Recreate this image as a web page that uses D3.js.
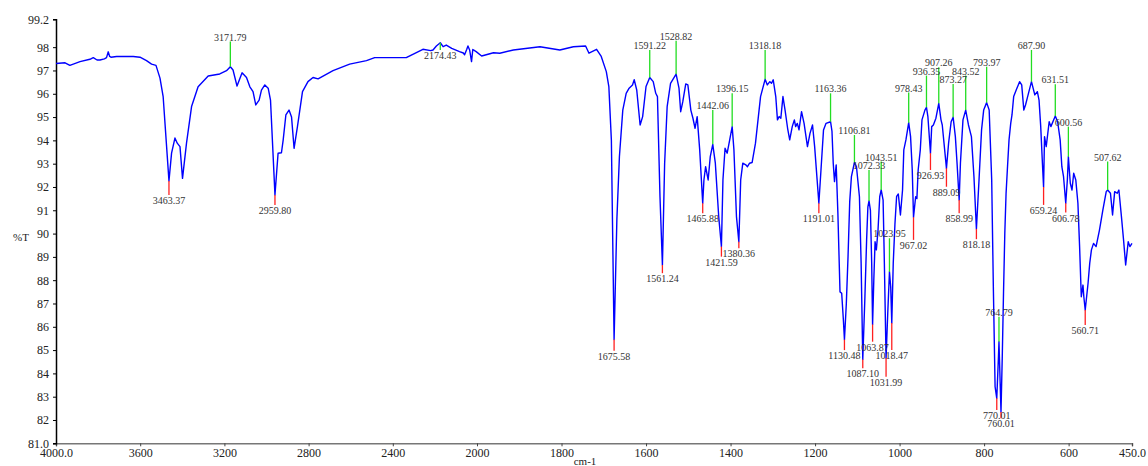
<!DOCTYPE html>
<html>
<head>
<meta charset="utf-8">
<script src="https://cdn.jsdelivr.net/npm/d3@7"></script>
<style>
  body { margin: 0; background: #fff; }
  svg { display: block; font-family: "Liberation Serif", "DejaVu Serif", serif; }
  .tick text { fill: #222; font-size: 12px; font-family: "Liberation Serif", "DejaVu Serif", serif; }
  .peak-label { fill: #333; font-size: 10px; }
  .axis-label { fill: #222; font-size: 11px; }
</style>
</head>
<body>
<div id="chart"></div>
<script>
// IR spectrum, %T against wavenumber (cm-1)
const spectrum = [
  [4000, 97.3], [3957, 97.33], [3934, 97.22], [3886, 97.38], [3839, 97.48], [3823, 97.55],
  [3805, 97.45], [3791, 97.45], [3770, 97.5], [3760, 97.55], [3752, 97.8], [3745, 97.6],
  [3739, 97.57], [3712, 97.6], [3633, 97.6], [3601, 97.57], [3570, 97.42], [3546, 97.27],
  [3525, 97.22], [3506, 96.67], [3491, 95.88], [3463.37, 92.26], [3451, 93.45], [3435, 94.1],
  [3424, 93.88], [3411, 93.73], [3399, 92.37], [3380, 93.88], [3356, 95.45], [3325, 96.3],
  [3277, 96.76], [3222, 96.85], [3190, 96.99], [3171.79, 97.16], [3159, 97.02], [3140, 96.33],
  [3116, 96.9], [3095, 96.7], [3079, 96.3], [3064, 96.09], [3051, 95.52], [3035, 95.73],
  [3024, 96.16], [3008, 96.38], [2992, 96.24], [2981, 95.73], [2959.8, 91.66], [2945, 93.45],
  [2929, 93.47], [2921, 94.0], [2908, 95.09], [2893, 95.3], [2881, 95.0], [2869, 93.66],
  [2853, 94.59], [2829, 96.09], [2803, 96.52], [2779, 96.7], [2755, 96.64], [2684, 96.99],
  [2605, 97.27], [2525, 97.42], [2486, 97.55], [2367, 97.55], [2336, 97.55], [2257, 97.91],
  [2220, 97.85], [2209, 97.88], [2193, 98.05], [2174.43, 98.19], [2161, 98.02], [2146, 98.09],
  [2120, 97.95], [2083, 97.81], [2065, 97.75], [2059, 97.67], [2049, 97.9], [2043, 98.05],
  [2035, 97.88], [2026, 97.38], [2020, 97.9], [2017, 97.88], [2004, 97.81], [1989, 97.62],
  [1961, 97.76], [1946, 97.74], [1914, 97.88], [1851, 98.02], [1804, 97.88], [1772, 98.02],
  [1743, 98.05], [1735, 97.74], [1717, 97.91], [1706, 97.6], [1694, 96.95], [1688, 96.31],
  [1682, 94.0], [1675.58, 85.45], [1669, 90.6], [1663, 93.3], [1655, 95.3], [1647, 96.02],
  [1640, 96.24], [1632, 96.38], [1628, 96.6], [1622, 96.16], [1614, 94.66], [1608, 95.02],
  [1600, 96.31], [1591.22, 96.7], [1583, 96.52], [1577, 96.02], [1573, 95.88], [1567, 91.59],
  [1561.24, 88.65], [1556, 93.0], [1550, 95.45], [1542, 96.45], [1528.82, 96.84], [1522, 96.24],
  [1518, 95.23], [1513, 95.66], [1506, 96.42], [1501, 96.38], [1494, 95.3], [1489, 94.95],
  [1484, 94.52], [1479, 95.02], [1473, 93.59], [1465.88, 91.3], [1463, 92.3], [1459, 92.87],
  [1453, 92.3], [1448, 93.3], [1442.06, 93.83], [1436, 93.02], [1428, 90.73], [1421.59, 89.44],
  [1418, 92.3], [1413, 93.66], [1408, 93.45], [1402, 94.02], [1396.15, 94.59], [1392, 93.59],
  [1386, 90.73], [1380.36, 89.65], [1376, 92.3], [1371, 93.02], [1364, 92.95], [1360, 92.87],
  [1355, 93.02], [1349, 93.05], [1341, 93.88], [1329, 95.88], [1318.18, 96.62], [1313, 96.38],
  [1307, 96.52], [1303, 96.45], [1299, 96.6], [1293, 95.88], [1289, 94.88], [1285, 95.02],
  [1281, 94.95], [1276, 95.88], [1271, 95.3], [1265, 94.52], [1260, 94.02], [1254, 94.59],
  [1249, 94.88], [1246, 94.59], [1242, 94.73], [1238, 94.45], [1232, 95.23], [1226, 94.73],
  [1218, 93.73], [1212, 94.3], [1206, 94.66], [1201, 93.73], [1191.01, 91.3], [1186, 92.73],
  [1180, 94.45], [1174, 94.73], [1163.36, 94.8], [1160, 94.4], [1157, 93.02], [1154, 92.23],
  [1150, 92.95], [1146, 90.87], [1141, 87.5], [1137, 87.44], [1133, 86.29], [1130.48, 85.45],
  [1126, 87.0], [1122, 89.0], [1118, 91.37], [1114, 92.44], [1106.81, 93.06], [1102, 92.87],
  [1095, 91.58], [1091, 88.73], [1087.1, 84.6], [1082, 87.3], [1078, 89.73], [1075, 91.15],
  [1072.33, 91.4], [1069, 91.0], [1066, 88.73], [1063.87, 86.1], [1061, 88.0], [1058, 89.65],
  [1055, 89.3], [1051, 90.15], [1047, 91.58], [1043.51, 91.87], [1039, 91.44], [1036, 88.73],
  [1031.99, 84.66], [1028, 86.58], [1023.95, 88.36], [1021, 87.72], [1018.47, 86.16], [1015, 88.73],
  [1011, 90.4], [1007, 91.6], [1003, 91.7], [998, 90.8], [993, 91.87], [990, 93.59],
  [985, 94.02], [978.43, 94.76], [974, 94.16], [970, 92.73], [967.02, 90.7], [962, 91.58],
  [959, 91.5], [956, 92.73], [951, 93.59], [947, 94.88], [940, 95.3], [936.35, 95.42],
  [933, 95.02], [926.93, 93.45], [924, 94.59], [920, 94.66], [914, 94.95], [907.26, 95.59],
  [902, 94.88], [899, 94.66], [889.09, 92.8], [884, 93.88], [878, 94.8], [873.27, 94.99],
  [868, 94.16], [864, 93.02], [858.99, 91.44], [856, 93.02], [850, 94.88], [843.52, 95.3],
  [837, 94.66], [830, 94.16], [824, 92.44], [818.18, 90.2], [812, 92.3], [806, 94.45],
  [801, 95.3], [793.97, 95.62], [788, 95.3], [782, 92.3], [778, 87.58], [774, 83.43],
  [770.01, 82.93], [766, 84.72], [764.79, 85.36], [761.5, 83.29], [760.01, 82.34], [757, 84.72],
  [754, 87.5], [751, 90.0], [748, 91.73], [745, 92.73], [741, 94.02], [737, 94.73],
  [734, 95.09], [730, 95.88], [724, 96.16], [716, 96.52], [711, 96.38], [706, 95.3],
  [702, 95.52], [698, 95.8], [687.9, 96.52], [684, 96.24], [680, 95.95], [674, 96.09],
  [670, 95.73], [666, 94.59], [662, 93.02], [659.24, 92.0], [657, 94.16], [653, 93.73],
  [646, 94.8], [642, 94.59], [631.51, 95.05], [626, 94.8], [620, 94.02], [616, 92.87],
  [612, 92.44], [606.78, 91.3], [603, 92.3], [600.56, 93.3], [596, 92.16], [592, 91.87],
  [588, 92.59], [583, 92.3], [578, 91.3], [574, 89.44], [570, 87.29], [566, 87.79],
  [564, 87.29], [560.71, 86.72], [554, 87.87], [550, 88.73], [546, 89.3], [541, 89.58],
  [535, 89.44], [527, 90.15], [519, 91.01], [511, 91.8], [507.62, 91.87], [501, 91.73],
  [496, 90.8], [491, 91.8], [485, 91.73], [481, 91.87], [475, 90.73], [470, 89.73],
  [465, 88.65], [459, 89.65], [455, 89.44], [450, 89.58]
];

// picked maxima (green) and the %T where their label sits
const peakWn = [3171.79, 2174.43, 1591.22, 1528.82, 1442.06, 1396.15, 1318.18, 1163.36,
  1106.81, 1072.33, 1043.51, 1023.95, 978.43, 936.35, 907.26, 873.27, 843.52, 793.97,
  764.79, 687.90, 631.51, 600.56, 507.62];
const peakLabelT = [98.24, 97.88, 97.88, 98.27, 95.3, 96.02, 97.88, 96.02,
  94.23, 92.73, 93.09, 89.8, 96.05, 96.78, 97.14, 96.42, 96.78, 97.16,
  86.43, 97.88, 96.41, 94.59, 93.09];

// picked minima (red)
const valleyWn = [3463.37, 2959.80, 1675.58, 1561.24, 1465.88, 1421.59, 1380.36, 1191.01,
  1130.48, 1087.10, 1063.87, 1031.99, 1018.47, 967.02, 926.93, 889.09, 858.99, 818.18,
  770.01, 760.01, 659.24, 606.78, 560.71];
const valleyLabelT = [91.66, 91.23, 84.97, 88.3, 90.87, 89.01, 89.37, 90.87,
  85.0, 84.22, 85.36, 83.86, 85.0, 89.73, 92.73, 92.01, 90.87, 89.76,
  82.43, 82.07, 91.23, 90.9, 86.08];

const xTicks = [4000, 3600, 3200, 2800, 2400, 2000, 1800, 1600, 1400, 1200, 1000, 800, 600, 450];
const yTicks = [81, 82, 83, 84, 85, 86, 87, 88, 89, 90, 91, 92, 93, 94, 95, 96, 97, 98, 99.2];

const width = 1148, height = 466;

const svg = d3.select("#chart").append("svg")
    .attr("width", width)
    .attr("height", height);

// the wavenumber axis changes scale at 2000 cm-1
const xScale = d3.scaleLinear()
    .domain([4000, 2000, 450])
    .range([56, 477, 1132]);

const yScale = d3.scaleLinear()
    .domain([81, 99.2])
    .range([443.3, 19.2]);

// curve value at a wavenumber (linear between points)
function valueAt(wn) {
    for (let i = 0; i < spectrum.length - 1; i++) {
        const a = spectrum[i], b = spectrum[i + 1];
        if (wn <= a[0] && wn >= b[0]) {
            const t = (a[0] - wn) / (a[0] - b[0]);
            return a[1] + t * (b[1] - a[1]);
        }
    }
    return spectrum[spectrum.length - 1][1];
}

// X axis
const xAxis = svg.append("g")
    .attr("transform", `translate(0, ${yScale(81)})`)
    .call(d3.axisBottom(xScale)
        .tickValues(xTicks)
        .tickSize(3)
        .tickPadding(2)
        .tickFormat(d => (d === 4000 || d === 450) ? d.toFixed(1) : d));
xAxis.attr("font-family", null);
xAxis.select(".domain").attr("stroke", "#777").attr("stroke-width", 1.5);
xAxis.selectAll(".tick line").attr("stroke", "#444");

// Y axis
const yAxis = svg.append("g")
    .attr("transform", `translate(${xScale(4000)}, 0)`)
    .call(d3.axisLeft(yScale)
        .tickValues(yTicks)
        .tickSize(3)
        .tickPadding(4)
        .tickFormat(d => (d === 81 || d === 99.2) ? d.toFixed(1) : d));
yAxis.attr("font-family", null);
yAxis.select(".domain").attr("stroke", "#000").attr("stroke-width", 1.5);

// axis labels
svg.append("text")
    .attr("class", "axis-label")
    .attr("x", 585)
    .attr("y", 465)
    .attr("text-anchor", "middle")
    .text("cm-1");

svg.append("text")
    .attr("class", "axis-label")
    .attr("x", 21)
    .attr("y", 241)
    .attr("text-anchor", "middle")
    .text("%T");

// spectrum trace
const line = d3.line()
    .x(d => xScale(d[0]))
    .y(d => yScale(d[1]));

svg.append("path")
    .datum(spectrum)
    .attr("fill", "none")
    .attr("stroke", "#0000ff")
    .attr("stroke-width", 1.4)
    .attr("stroke-linejoin", "round")
    .attr("d", line);

// peak / valley markers with labels
function drawMarks(wns, labelTs, color) {
    const marks = wns.map((wn, i) => ({ wn, t: valueAt(wn), lt: labelTs[i] }));

    svg.append("g").selectAll("line")
        .data(marks)
        .join("line")
        .attr("x1", d => xScale(d.wn))
        .attr("x2", d => xScale(d.wn))
        .attr("y1", d => yScale(d.t))
        .attr("y2", d => yScale(d.lt))
        .attr("stroke", color)
        .attr("stroke-width", 1.3);

    svg.append("g").selectAll("text")
        .data(marks)
        .join("text")
        .attr("class", "peak-label")
        .attr("x", d => xScale(d.wn))
        .attr("y", d => d.lt > d.t ? yScale(d.lt) - 1 : yScale(d.lt) + 9)
        .attr("text-anchor", "middle")
        .text(d => d.wn.toFixed(2));
}

drawMarks(peakWn, peakLabelT, "#22dd22");
drawMarks(valleyWn, valleyLabelT, "#ff2020");
</script>
</body>
</html>
